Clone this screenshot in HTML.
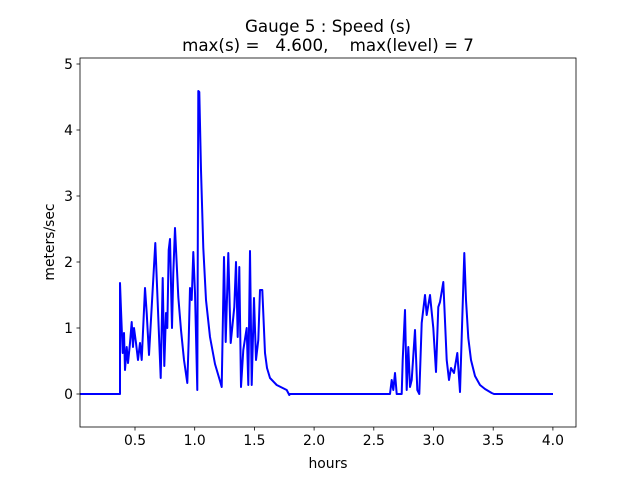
<!DOCTYPE html>
<html><head><style>body{margin:0;background:#fff}svg{display:block}text{font-family:"DejaVu Sans","Liberation Sans",sans-serif;fill:#000}</style></head>
<body>
<svg width="640" height="480" xmlns="http://www.w3.org/2000/svg">
<rect width="640" height="480" fill="#fff"/>
<defs><clipPath id="c"><rect x="80" y="58" width="496" height="369"/></clipPath></defs>
<polyline clip-path="url(#c)" fill="none" stroke="#0000ff" stroke-width="2" stroke-linejoin="round" points="80,394 120,394 120,283 121,310 122.7,353 124,333 125,370 126.7,347 128,363 130,343 131.7,322 133,347 134,328 136,343 138,360 140,343 141.7,360 145,288 146.7,313 149,355 155.3,243 160.7,378 162.7,278 164.3,366 166,313 167.3,328 168.7,250 170,239 172,328 173.3,273 175,228 177,270 178.3,297 181,330 184,360 187.3,383 188.7,340 190,288 191.7,300 193.3,252 195,293 197.3,390 198.3,91 199.3,92 201,170 203.3,248 206,300 210,337 215,364 220,381 221.7,387 224,257 225.7,342 228.3,253 230.7,343 234.3,307 236,262 237.7,337 239.3,267 241,387 243.3,350 246.7,328 248.3,385 250,251 251.7,385 254,298 256,360 258.3,340 260,290 262.3,290 265,353 267,368 270,378 276.7,385 286.7,390 289.3,395 290,394 390,394 391.7,380 393.3,390 395,373 396.7,394 401.7,394 402.7,360 405,310 406.7,390 408.3,347 410,387 411.7,380 415,330 417.3,390 419.3,394 421.7,323 425,295 426.7,315 430,295 433.3,328 436,372 438.3,307 440,302 443.3,282 446.7,360 449,380 451,368 454,373 457.3,353 460,392 464.3,253 466,300 468.3,338 471,360 475,376 480,385 485,389 491.7,393 494,394 553,394"/>
<rect x="80" y="58" width="496" height="369" fill="none" stroke="#000" stroke-width="0.8"/>
<g stroke="#000" stroke-width="0.8">
<line x1="135" y1="427" x2="135" y2="430.5"/><line x1="194.7" y1="427" x2="194.7" y2="430.5"/><line x1="254.4" y1="427" x2="254.4" y2="430.5"/><line x1="314.1" y1="427" x2="314.1" y2="430.5"/><line x1="373.8" y1="427" x2="373.8" y2="430.5"/><line x1="433.5" y1="427" x2="433.5" y2="430.5"/><line x1="493.2" y1="427" x2="493.2" y2="430.5"/><line x1="552.9" y1="427" x2="552.9" y2="430.5"/>
<line x1="76.5" y1="394" x2="80" y2="394"/><line x1="76.5" y1="328" x2="80" y2="328"/><line x1="76.5" y1="262" x2="80" y2="262"/><line x1="76.5" y1="196" x2="80" y2="196"/><line x1="76.5" y1="130" x2="80" y2="130"/><line x1="76.5" y1="64" x2="80" y2="64"/>
</g>
<g font-size="13.9" text-anchor="middle">
<text x="135" y="445">0.5</text><text x="194.7" y="445">1.0</text><text x="254.4" y="445">1.5</text><text x="314.1" y="445">2.0</text><text x="373.8" y="445">2.5</text><text x="433.5" y="445">3.0</text><text x="493.2" y="445">3.5</text><text x="552.9" y="445">4.0</text>
</g>
<g font-size="13.9" text-anchor="end">
<text x="73" y="399">0</text><text x="73" y="333">1</text><text x="73" y="267">2</text><text x="73" y="201">3</text><text x="73" y="135">4</text><text x="73" y="69">5</text>
</g>
<text x="328" y="468" font-size="13.9" text-anchor="middle">hours</text>
<text x="0" y="0" font-size="13.9" text-anchor="middle" transform="translate(54,242) rotate(-90)">meters/sec</text>
<text x="328" y="32" font-size="16.7" text-anchor="middle">Gauge 5 : Speed (s)</text>
<text x="328" y="51" font-size="16.7" text-anchor="middle" xml:space="preserve">max(s) =   4.600,    max(level) = 7</text>
</svg>
</body></html>
